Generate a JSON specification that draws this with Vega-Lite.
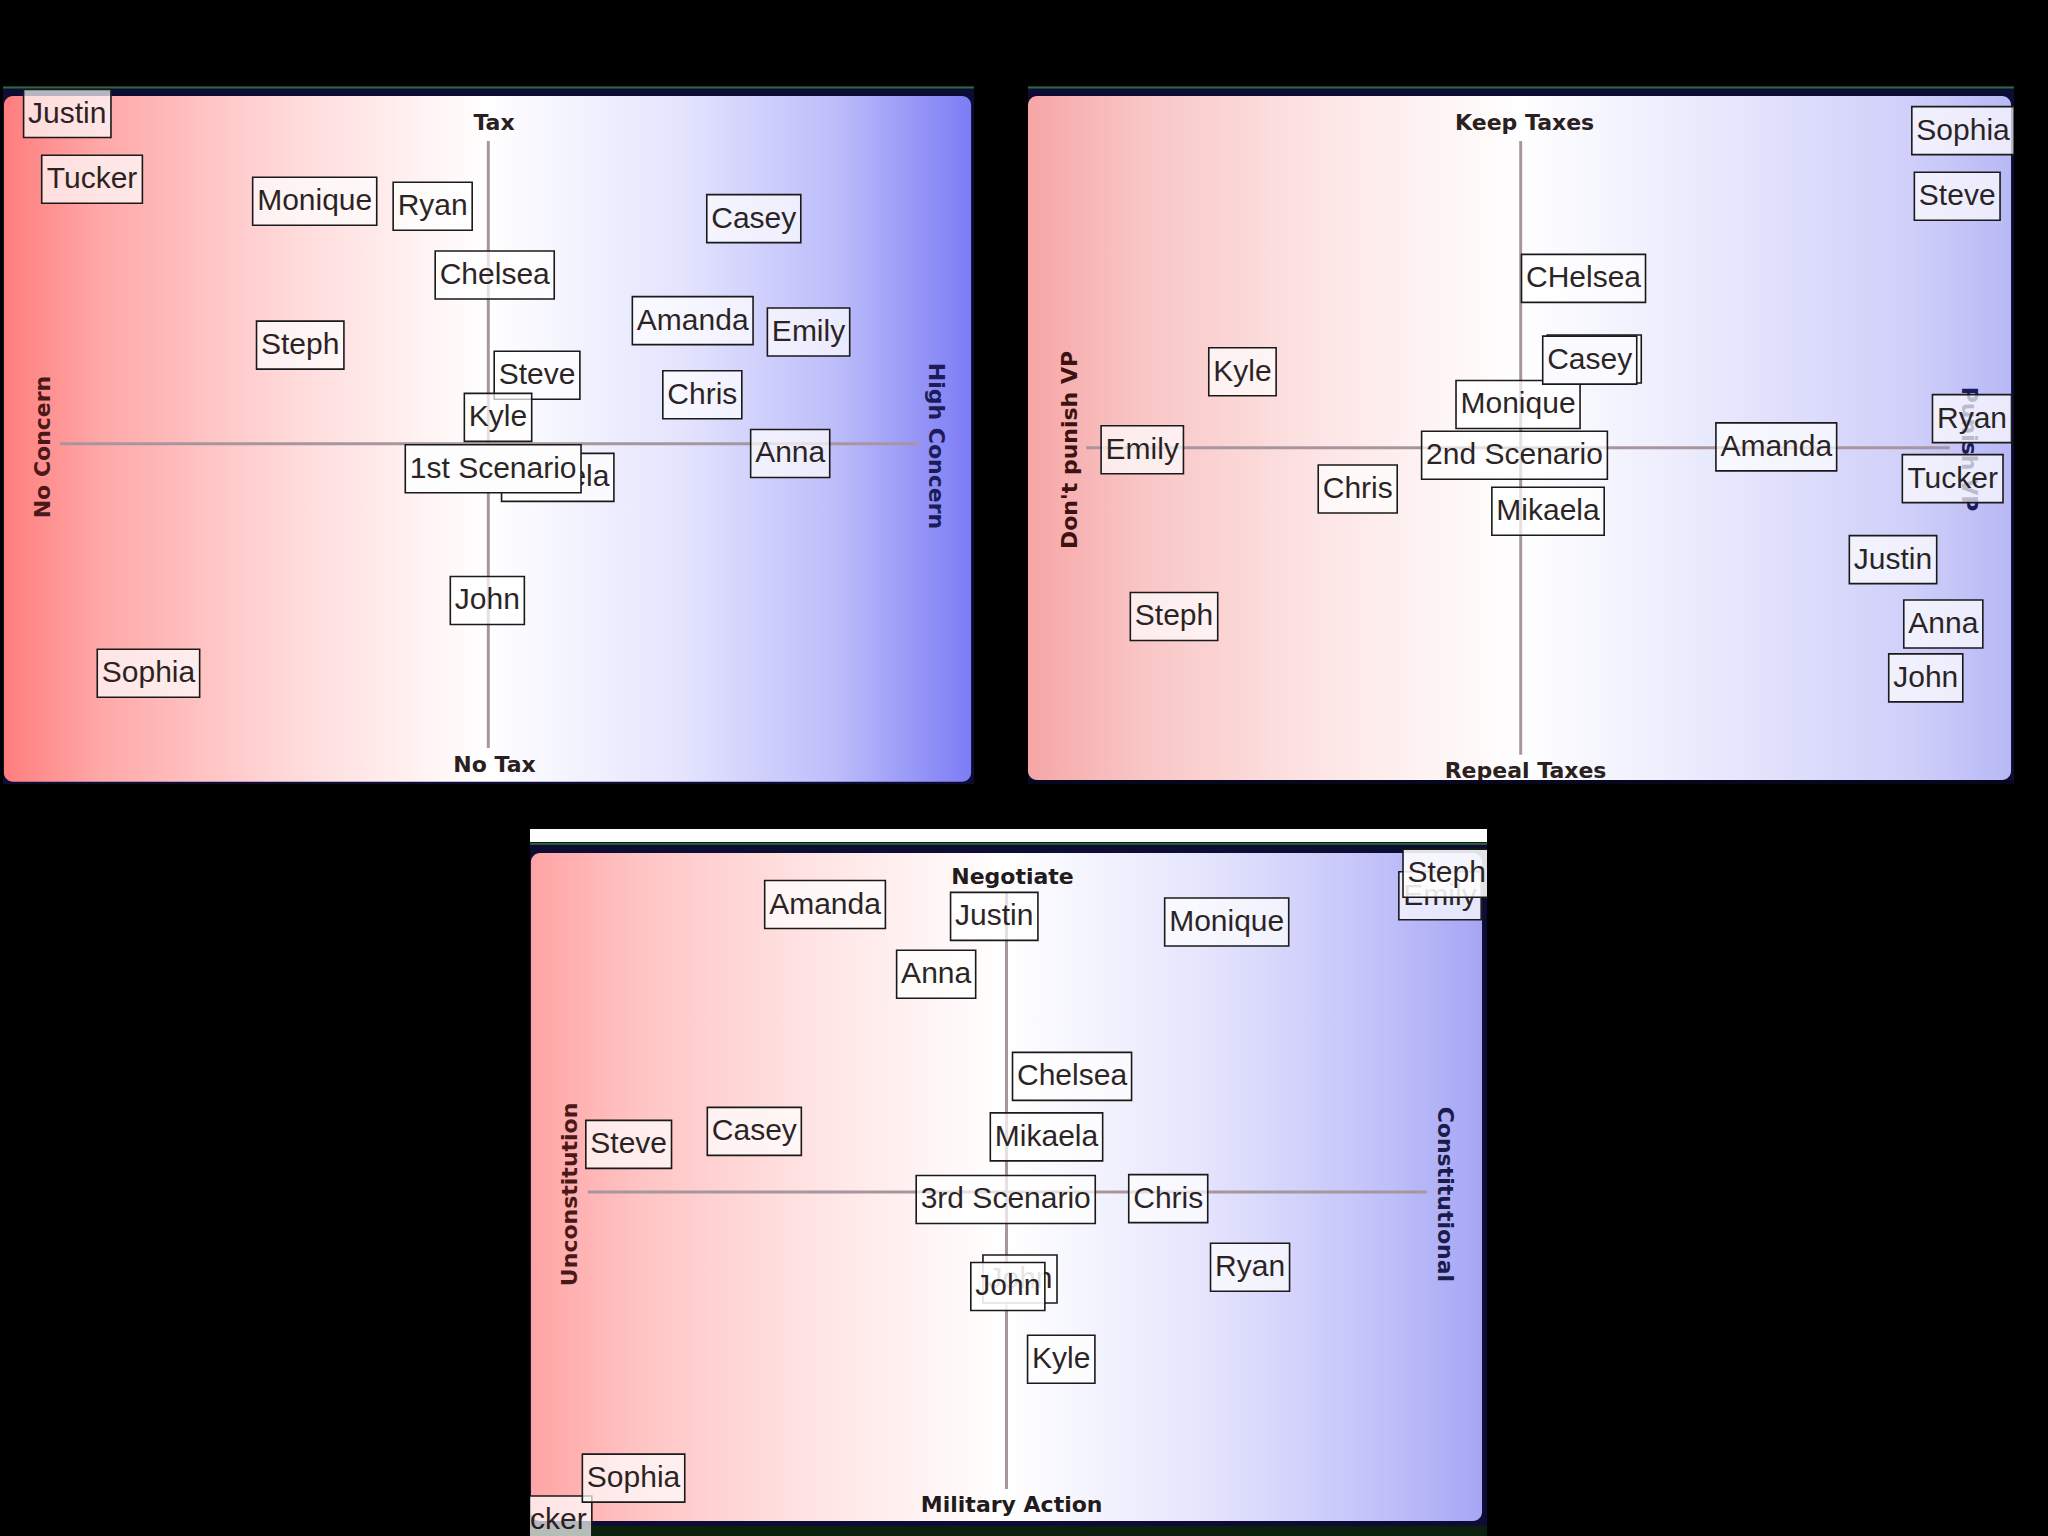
{
  "$schema": "https://vega.github.io/schema/vega-lite/v6.json",
  "background": "#000000",
  "padding": {"left": 2, "top": 86, "right": 37, "bottom": 0},
  "center": true,
  "spacing": 45,
  "config": {"view": {"stroke": null}},
  "datasets": {
    "p1": [
      {"name": "Justin", "x": 6.62, "y": 96.06},
      {"name": "Tucker", "x": 9.17, "y": 86.65},
      {"name": "Monique", "x": 32.10, "y": 83.48},
      {"name": "Ryan", "x": 44.25, "y": 82.77},
      {"name": "Casey", "x": 77.32, "y": 81.0},
      {"name": "Chelsea", "x": 50.64, "y": 72.92},
      {"name": "Amanda", "x": 71.03, "y": 66.38},
      {"name": "Emily", "x": 82.96, "y": 64.76},
      {"name": "Steph", "x": 30.61, "y": 62.87},
      {"name": "Steve", "x": 55.0, "y": 58.55},
      {"name": "Chris", "x": 72.02, "y": 55.77},
      {"name": "Kyle", "x": 50.98, "y": 52.52},
      {"name": "Anna", "x": 81.07, "y": 47.36},
      {"name": "John", "x": 49.88, "y": 26.30},
      {"name": "Sophia", "x": 14.98, "y": 15.86}
    ],
    "p1under": [
      {"name": "Mikaela", "x": 57.13, "y": 43.93}
    ],
    "p1front": [
      {"name": "1st Scenario", "x": 50.48, "y": 45.16}
    ],
    "p2": [
      {"name": "Sophia", "x": 94.83, "y": 93.60},
      {"name": "Steve", "x": 94.24, "y": 84.21},
      {"name": "CHelsea", "x": 56.34, "y": 72.44},
      {"name": "Kyle", "x": 21.75, "y": 59.07},
      {"name": "Monique", "x": 49.70, "y": 54.37},
      {"name": "Ryan", "x": 95.74, "y": 52.35},
      {"name": "2nd Scenario", "x": 49.34, "y": 47.09},
      {"name": "Emily", "x": 11.59, "y": 47.88},
      {"name": "Amanda", "x": 75.89, "y": 48.30},
      {"name": "Tucker", "x": 93.78, "y": 43.75},
      {"name": "Chris", "x": 33.44, "y": 42.26},
      {"name": "Mikaela", "x": 52.74, "y": 39.08},
      {"name": "Justin", "x": 87.73, "y": 32.15},
      {"name": "Steph", "x": 14.81, "y": 24.0},
      {"name": "Anna", "x": 92.83, "y": 22.92},
      {"name": "John", "x": 91.05, "y": 15.21}
    ],
    "p2under": [
      {"name": "Casey", "x": 57.43, "y": 60.89}
    ],
    "p2front": [
      {"name": "Casey", "x": 56.97, "y": 60.73}
    ],
    "p3": [
      {"name": "Amanda", "x": 30.83, "y": 89.32},
      {"name": "Justin", "x": 48.51, "y": 87.64},
      {"name": "Monique", "x": 72.80, "y": 86.85},
      {"name": "Anna", "x": 42.44, "y": 79.45},
      {"name": "Chelsea", "x": 56.64, "y": 65.01},
      {"name": "Steve", "x": 10.31, "y": 55.39},
      {"name": "Casey", "x": 23.44, "y": 57.23},
      {"name": "Mikaela", "x": 53.97, "y": 56.45},
      {"name": "3rd Scenario", "x": 49.71, "y": 47.60},
      {"name": "Chris", "x": 66.69, "y": 47.72},
      {"name": "Ryan", "x": 75.24, "y": 38.01},
      {"name": "Kyle", "x": 55.51, "y": 24.99},
      {"name": "Tucker", "x": 1.20, "y": 2.26},
      {"name": "Sophia", "x": 10.82, "y": 8.18}
    ],
    "p3under": [
      {"name": "Emily", "x": 95.09, "y": 90.55},
      {"name": "John", "x": 51.20, "y": 36.35}
    ],
    "p3front": [
      {"name": "John", "x": 49.93, "y": 35.30},
      {"name": "Steph", "x": 95.79, "y": 93.75}
    ]
  },
  "vconcat": [
    {
      "hconcat": [
        {
          "width": 971,
          "height": 698,
          "layer": [
            {"data": {"values": [{}]}, "mark": {"type": "rect", "fill": "#0c0c34"},
             "encoding": {"x": {"datum": 0, "type": "quantitative", "scale": {"domain": [0, 100], "nice": false, "zero": false}, "axis": null}, "x2": {"datum": 100},
                          "y": {"datum": 0, "type": "quantitative", "scale": {"domain": [0, 100], "nice": false, "zero": false}, "axis": null}, "y2": {"datum": 100}}},
            {"data": {"values": [{}]}, "mark": {"type": "rule", "color": "#2e6b34", "strokeWidth": 2},
             "encoding": {"x": {"datum": 0, "type": "quantitative"}, "x2": {"datum": 100}, "y": {"datum": 99.8, "type": "quantitative"}}},
            {"data": {"values": [{}]}, "mark": {"type": "rect", "cornerRadius": 9, "fill": {"gradient": "linear", "x1": 0, "y1": 0, "x2": 1, "y2": 0, "stops": [{"offset": 0, "color": "#ff7d7d"}, {"offset": 0.1, "color": "#ffa8a8"}, {"offset": 0.3, "color": "#ffdada"}, {"offset": 0.5, "color": "#ffffff"}, {"offset": 0.7, "color": "#e4e4fe"}, {"offset": 0.86, "color": "#bdbdfb"}, {"offset": 1, "color": "#7c7cf5"}]}},
             "encoding": {"x": {"datum": 0.1, "type": "quantitative"}, "x2": {"datum": 99.7}, "y": {"datum": 0.33, "type": "quantitative"}, "y2": {"datum": 98.57}}},
            {"data": {"values": [{"x": 5.87, "x2": 94.3, "y": 48.75, "y2": 48.75}, {"x": 49.98, "x2": 49.98, "y": 92.12, "y2": 5.16}]},
             "mark": {"type": "rule", "color": "#a8969e", "strokeWidth": 3},
             "encoding": {"x": {"field": "x", "type": "quantitative"}, "x2": {"field": "x2"}, "y": {"field": "y", "type": "quantitative"}, "y2": {"field": "y2"}}},
            {"data": {"values": [{"label": "Tax", "x": 50.57, "y": 94.70}, {"label": "No Tax", "x": 50.62, "y": 2.72}]},
             "mark": {"type": "text", "font": "DejaVu Sans", "fontWeight": "bold", "fontSize": 22, "color": "#2b1e20", "align": "center", "baseline": "middle"},
             "encoding": {"x": {"field": "x", "type": "quantitative"}, "y": {"field": "y", "type": "quantitative"}, "text": {"field": "label"}}},
            {"data": {"values": [{"label": "No Concern", "x": 4.17, "y": 48.28}]},
             "mark": {"type": "text", "font": "DejaVu Sans", "fontWeight": "bold", "fontSize": 22, "color": "#4a1818", "angle": 270, "align": "center", "baseline": "middle"},
             "encoding": {"x": {"field": "x", "type": "quantitative"}, "y": {"field": "y", "type": "quantitative"}, "text": {"field": "label"}}},
            {"data": {"values": [{"label": "High Concern", "x": 96.09, "y": 48.42}]},
             "mark": {"type": "text", "font": "DejaVu Sans", "fontWeight": "bold", "fontSize": 22, "color": "#1c1c5a", "angle": 90, "align": "center", "baseline": "middle"},
             "encoding": {"x": {"field": "x", "type": "quantitative"}, "y": {"field": "y", "type": "quantitative"}, "text": {"field": "label"}}},
            {"data": {"name": "p1under"},
             "mark": {"type": "rect", "clip": true, "fill": "#ffffff", "fillOpacity": 0.7, "stroke": "#1a1a1a", "strokeWidth": 1.6, "yOffset": -24, "y2Offset": 24,
                      "xOffset": {"expr": "-(30*(0.556*length(datum.name)-0.334*(length(datum.name)-length(replace(datum.name,regexp('[ijl]','g'),'')))-0.278*(length(datum.name)-length(replace(datum.name,regexp('[t ]','g'),'')))-0.223*(length(datum.name)-length(replace(datum.name,regexp('r','g'),'')))-0.056*(length(datum.name)-length(replace(datum.name,regexp('[cksvyJ]','g'),'')))+0.111*(length(datum.name)-length(replace(datum.name,regexp('[AEKS]','g'),'')))+0.166*(length(datum.name)-length(replace(datum.name,regexp('[CRH]','g'),'')))+0.277*(length(datum.name)-length(replace(datum.name,regexp('[mM]','g'),'')))+0.055*(length(datum.name)-length(replace(datum.name,regexp('T','g'),''))))+9)/2"},
                      "x2Offset": {"expr": "(30*(0.556*length(datum.name)-0.334*(length(datum.name)-length(replace(datum.name,regexp('[ijl]','g'),'')))-0.278*(length(datum.name)-length(replace(datum.name,regexp('[t ]','g'),'')))-0.223*(length(datum.name)-length(replace(datum.name,regexp('r','g'),'')))-0.056*(length(datum.name)-length(replace(datum.name,regexp('[cksvyJ]','g'),'')))+0.111*(length(datum.name)-length(replace(datum.name,regexp('[AEKS]','g'),'')))+0.166*(length(datum.name)-length(replace(datum.name,regexp('[CRH]','g'),'')))+0.277*(length(datum.name)-length(replace(datum.name,regexp('[mM]','g'),'')))+0.055*(length(datum.name)-length(replace(datum.name,regexp('T','g'),''))))+9)/2"}},
             "encoding": {"x": {"field": "x", "type": "quantitative"}, "x2": {"field": "x"}, "y": {"field": "y", "type": "quantitative"}, "y2": {"field": "y"}}},
            {"data": {"name": "p1under"},
             "mark": {"type": "text", "clip": true, "font": "Liberation Sans", "fontSize": 30, "color": "#1a1212", "opacity": 0.92, "align": "center", "baseline": "middle"},
             "encoding": {"x": {"field": "x", "type": "quantitative"}, "y": {"field": "y", "type": "quantitative"}, "text": {"field": "name"}}},
            {"data": {"name": "p1"},
             "mark": {"type": "rect", "clip": true, "fill": "#ffffff", "fillOpacity": 0.7, "stroke": "#1a1a1a", "strokeWidth": 1.6, "yOffset": -24, "y2Offset": 24,
                      "xOffset": {"expr": "-(30*(0.556*length(datum.name)-0.334*(length(datum.name)-length(replace(datum.name,regexp('[ijl]','g'),'')))-0.278*(length(datum.name)-length(replace(datum.name,regexp('[t ]','g'),'')))-0.223*(length(datum.name)-length(replace(datum.name,regexp('r','g'),'')))-0.056*(length(datum.name)-length(replace(datum.name,regexp('[cksvyJ]','g'),'')))+0.111*(length(datum.name)-length(replace(datum.name,regexp('[AEKS]','g'),'')))+0.166*(length(datum.name)-length(replace(datum.name,regexp('[CRH]','g'),'')))+0.277*(length(datum.name)-length(replace(datum.name,regexp('[mM]','g'),'')))+0.055*(length(datum.name)-length(replace(datum.name,regexp('T','g'),''))))+9)/2"},
                      "x2Offset": {"expr": "(30*(0.556*length(datum.name)-0.334*(length(datum.name)-length(replace(datum.name,regexp('[ijl]','g'),'')))-0.278*(length(datum.name)-length(replace(datum.name,regexp('[t ]','g'),'')))-0.223*(length(datum.name)-length(replace(datum.name,regexp('r','g'),'')))-0.056*(length(datum.name)-length(replace(datum.name,regexp('[cksvyJ]','g'),'')))+0.111*(length(datum.name)-length(replace(datum.name,regexp('[AEKS]','g'),'')))+0.166*(length(datum.name)-length(replace(datum.name,regexp('[CRH]','g'),'')))+0.277*(length(datum.name)-length(replace(datum.name,regexp('[mM]','g'),'')))+0.055*(length(datum.name)-length(replace(datum.name,regexp('T','g'),''))))+9)/2"}},
             "encoding": {"x": {"field": "x", "type": "quantitative"}, "x2": {"field": "x"}, "y": {"field": "y", "type": "quantitative"}, "y2": {"field": "y"}}},
            {"data": {"name": "p1"},
             "mark": {"type": "text", "clip": true, "font": "Liberation Sans", "fontSize": 30, "color": "#1a1212", "opacity": 0.92, "align": "center", "baseline": "middle"},
             "encoding": {"x": {"field": "x", "type": "quantitative"}, "y": {"field": "y", "type": "quantitative"}, "text": {"field": "name"}}},
            {"data": {"name": "p1front"},
             "mark": {"type": "rect", "clip": true, "fill": "#fdfdfd", "stroke": "#1a1a1a", "strokeWidth": 1.6, "yOffset": -24, "y2Offset": 24,
                      "xOffset": {"expr": "-(30*(0.556*length(datum.name)-0.334*(length(datum.name)-length(replace(datum.name,regexp('[ijl]','g'),'')))-0.278*(length(datum.name)-length(replace(datum.name,regexp('[t ]','g'),'')))-0.223*(length(datum.name)-length(replace(datum.name,regexp('r','g'),'')))-0.056*(length(datum.name)-length(replace(datum.name,regexp('[cksvyJ]','g'),'')))+0.111*(length(datum.name)-length(replace(datum.name,regexp('[AEKS]','g'),'')))+0.166*(length(datum.name)-length(replace(datum.name,regexp('[CRH]','g'),'')))+0.277*(length(datum.name)-length(replace(datum.name,regexp('[mM]','g'),'')))+0.055*(length(datum.name)-length(replace(datum.name,regexp('T','g'),''))))+9)/2"},
                      "x2Offset": {"expr": "(30*(0.556*length(datum.name)-0.334*(length(datum.name)-length(replace(datum.name,regexp('[ijl]','g'),'')))-0.278*(length(datum.name)-length(replace(datum.name,regexp('[t ]','g'),'')))-0.223*(length(datum.name)-length(replace(datum.name,regexp('r','g'),'')))-0.056*(length(datum.name)-length(replace(datum.name,regexp('[cksvyJ]','g'),'')))+0.111*(length(datum.name)-length(replace(datum.name,regexp('[AEKS]','g'),'')))+0.166*(length(datum.name)-length(replace(datum.name,regexp('[CRH]','g'),'')))+0.277*(length(datum.name)-length(replace(datum.name,regexp('[mM]','g'),'')))+0.055*(length(datum.name)-length(replace(datum.name,regexp('T','g'),''))))+9)/2"}},
             "encoding": {"x": {"field": "x", "type": "quantitative"}, "x2": {"field": "x"}, "y": {"field": "y", "type": "quantitative"}, "y2": {"field": "y"}}},
            {"data": {"name": "p1front"},
             "mark": {"type": "text", "clip": true, "font": "Liberation Sans", "fontSize": 30, "color": "#1a1212", "opacity": 0.92, "align": "center", "baseline": "middle"},
             "encoding": {"x": {"field": "x", "type": "quantitative"}, "y": {"field": "y", "type": "quantitative"}, "text": {"field": "name"}}}
          ]
        },
        {
          "width": 986,
          "height": 698,
          "layer": [
            {"data": {"values": [{}]}, "mark": {"type": "rect", "fill": "#0c0c34"},
             "encoding": {"x": {"datum": 0, "type": "quantitative", "scale": {"domain": [0, 100], "nice": false, "zero": false}, "axis": null}, "x2": {"datum": 100},
                          "y": {"datum": 0, "type": "quantitative", "scale": {"domain": [0, 100], "nice": false, "zero": false}, "axis": null}, "y2": {"datum": 100}}},
            {"data": {"values": [{}]}, "mark": {"type": "rule", "color": "#2e6b34", "strokeWidth": 2},
             "encoding": {"x": {"datum": 0, "type": "quantitative"}, "x2": {"datum": 100}, "y": {"datum": 99.8, "type": "quantitative"}}},
            {"data": {"values": [{}]}, "mark": {"type": "rect", "cornerRadius": 9, "fill": {"gradient": "linear", "x1": 0, "y1": 0, "x2": 1, "y2": 0, "stops": [{"offset": 0, "color": "#f6a6a6"}, {"offset": 0.12, "color": "#f9c6c6"}, {"offset": 0.3, "color": "#fde5e5"}, {"offset": 0.5, "color": "#ffffff"}, {"offset": 0.7, "color": "#e8e8fd"}, {"offset": 0.9, "color": "#cfcffa"}, {"offset": 1, "color": "#b8b8f6"}]}},
             "encoding": {"x": {"datum": 0, "type": "quantitative"}, "x2": {"datum": 99.7}, "y": {"datum": 0.57, "type": "quantitative"}, "y2": {"datum": 98.57}}},
            {"data": {"values": [{"x": 5.91, "x2": 93.48, "y": 48.17, "y2": 48.17}, {"x": 49.97, "x2": 49.97, "y": 92.12, "y2": 4.18}]},
             "mark": {"type": "rule", "color": "#a8969e", "strokeWidth": 3},
             "encoding": {"x": {"field": "x", "type": "quantitative"}, "x2": {"field": "x2"}, "y": {"field": "y", "type": "quantitative"}, "y2": {"field": "y2"}}},
            {"data": {"values": [{"label": "Keep Taxes", "x": 50.37, "y": 94.70}, {"label": "Repeal Taxes", "x": 50.46, "y": 1.91}]},
             "mark": {"type": "text", "font": "DejaVu Sans", "fontWeight": "bold", "fontSize": 22, "color": "#2a2020", "align": "center", "baseline": "middle"},
             "encoding": {"x": {"field": "x", "type": "quantitative"}, "y": {"field": "y", "type": "quantitative"}, "text": {"field": "label"}}},
            {"data": {"values": [{"label": "Don't punish VP", "x": 4.23, "y": 47.85}]},
             "mark": {"type": "text", "font": "DejaVu Sans", "fontWeight": "bold", "fontSize": 22, "color": "#3d1212", "angle": 270, "align": "center", "baseline": "middle"},
             "encoding": {"x": {"field": "x", "type": "quantitative"}, "y": {"field": "y", "type": "quantitative"}, "text": {"field": "label"}}},
            {"data": {"values": [{"label": "Punish VP", "x": 95.44, "y": 47.99}]},
             "mark": {"type": "text", "font": "DejaVu Sans", "fontWeight": "bold", "fontSize": 22, "color": "#1c1c5a", "angle": 90, "align": "center", "baseline": "middle"},
             "encoding": {"x": {"field": "x", "type": "quantitative"}, "y": {"field": "y", "type": "quantitative"}, "text": {"field": "label"}}},
            {"data": {"values": [{}]}, "mark": {"type": "rect", "fill": "#06061c"},
             "encoding": {"x": {"datum": 0, "type": "quantitative"}, "x2": {"datum": 100}, "y": {"datum": 0, "type": "quantitative"}, "y2": {"datum": 0.57}}},
            {"data": {"name": "p2under"},
             "mark": {"type": "rect", "clip": true, "fill": "#ffffff", "fillOpacity": 0.7, "stroke": "#1a1a1a", "strokeWidth": 1.6, "yOffset": -24, "y2Offset": 24,
                      "xOffset": {"expr": "-(30*(0.556*length(datum.name)-0.334*(length(datum.name)-length(replace(datum.name,regexp('[ijl]','g'),'')))-0.278*(length(datum.name)-length(replace(datum.name,regexp('[t ]','g'),'')))-0.223*(length(datum.name)-length(replace(datum.name,regexp('r','g'),'')))-0.056*(length(datum.name)-length(replace(datum.name,regexp('[cksvyJ]','g'),'')))+0.111*(length(datum.name)-length(replace(datum.name,regexp('[AEKS]','g'),'')))+0.166*(length(datum.name)-length(replace(datum.name,regexp('[CRH]','g'),'')))+0.277*(length(datum.name)-length(replace(datum.name,regexp('[mM]','g'),'')))+0.055*(length(datum.name)-length(replace(datum.name,regexp('T','g'),''))))+9)/2"},
                      "x2Offset": {"expr": "(30*(0.556*length(datum.name)-0.334*(length(datum.name)-length(replace(datum.name,regexp('[ijl]','g'),'')))-0.278*(length(datum.name)-length(replace(datum.name,regexp('[t ]','g'),'')))-0.223*(length(datum.name)-length(replace(datum.name,regexp('r','g'),'')))-0.056*(length(datum.name)-length(replace(datum.name,regexp('[cksvyJ]','g'),'')))+0.111*(length(datum.name)-length(replace(datum.name,regexp('[AEKS]','g'),'')))+0.166*(length(datum.name)-length(replace(datum.name,regexp('[CRH]','g'),'')))+0.277*(length(datum.name)-length(replace(datum.name,regexp('[mM]','g'),'')))+0.055*(length(datum.name)-length(replace(datum.name,regexp('T','g'),''))))+9)/2"}},
             "encoding": {"x": {"field": "x", "type": "quantitative"}, "x2": {"field": "x"}, "y": {"field": "y", "type": "quantitative"}, "y2": {"field": "y"}}},
            {"data": {"name": "p2under"},
             "mark": {"type": "text", "clip": true, "font": "Liberation Sans", "fontSize": 30, "color": "#1a1212", "opacity": 0.92, "align": "center", "baseline": "middle"},
             "encoding": {"x": {"field": "x", "type": "quantitative"}, "y": {"field": "y", "type": "quantitative"}, "text": {"field": "name"}}},
            {"data": {"name": "p2"},
             "mark": {"type": "rect", "clip": true, "fill": "#ffffff", "fillOpacity": 0.7, "stroke": "#1a1a1a", "strokeWidth": 1.6, "yOffset": -24, "y2Offset": 24,
                      "xOffset": {"expr": "-(30*(0.556*length(datum.name)-0.334*(length(datum.name)-length(replace(datum.name,regexp('[ijl]','g'),'')))-0.278*(length(datum.name)-length(replace(datum.name,regexp('[t ]','g'),'')))-0.223*(length(datum.name)-length(replace(datum.name,regexp('r','g'),'')))-0.056*(length(datum.name)-length(replace(datum.name,regexp('[cksvyJ]','g'),'')))+0.111*(length(datum.name)-length(replace(datum.name,regexp('[AEKS]','g'),'')))+0.166*(length(datum.name)-length(replace(datum.name,regexp('[CRH]','g'),'')))+0.277*(length(datum.name)-length(replace(datum.name,regexp('[mM]','g'),'')))+0.055*(length(datum.name)-length(replace(datum.name,regexp('T','g'),''))))+9)/2"},
                      "x2Offset": {"expr": "(30*(0.556*length(datum.name)-0.334*(length(datum.name)-length(replace(datum.name,regexp('[ijl]','g'),'')))-0.278*(length(datum.name)-length(replace(datum.name,regexp('[t ]','g'),'')))-0.223*(length(datum.name)-length(replace(datum.name,regexp('r','g'),'')))-0.056*(length(datum.name)-length(replace(datum.name,regexp('[cksvyJ]','g'),'')))+0.111*(length(datum.name)-length(replace(datum.name,regexp('[AEKS]','g'),'')))+0.166*(length(datum.name)-length(replace(datum.name,regexp('[CRH]','g'),'')))+0.277*(length(datum.name)-length(replace(datum.name,regexp('[mM]','g'),'')))+0.055*(length(datum.name)-length(replace(datum.name,regexp('T','g'),''))))+9)/2"}},
             "encoding": {"x": {"field": "x", "type": "quantitative"}, "x2": {"field": "x"}, "y": {"field": "y", "type": "quantitative"}, "y2": {"field": "y"}}},
            {"data": {"name": "p2"},
             "mark": {"type": "text", "clip": true, "font": "Liberation Sans", "fontSize": 30, "color": "#1a1212", "opacity": 0.92, "align": "center", "baseline": "middle"},
             "encoding": {"x": {"field": "x", "type": "quantitative"}, "y": {"field": "y", "type": "quantitative"}, "text": {"field": "name"}}},
            {"data": {"name": "p2front"},
             "mark": {"type": "rect", "clip": true, "fill": "#fbfbff", "stroke": "#1a1a1a", "strokeWidth": 1.6, "yOffset": -24, "y2Offset": 24,
                      "xOffset": {"expr": "-(30*(0.556*length(datum.name)-0.334*(length(datum.name)-length(replace(datum.name,regexp('[ijl]','g'),'')))-0.278*(length(datum.name)-length(replace(datum.name,regexp('[t ]','g'),'')))-0.223*(length(datum.name)-length(replace(datum.name,regexp('r','g'),'')))-0.056*(length(datum.name)-length(replace(datum.name,regexp('[cksvyJ]','g'),'')))+0.111*(length(datum.name)-length(replace(datum.name,regexp('[AEKS]','g'),'')))+0.166*(length(datum.name)-length(replace(datum.name,regexp('[CRH]','g'),'')))+0.277*(length(datum.name)-length(replace(datum.name,regexp('[mM]','g'),'')))+0.055*(length(datum.name)-length(replace(datum.name,regexp('T','g'),''))))+9)/2"},
                      "x2Offset": {"expr": "(30*(0.556*length(datum.name)-0.334*(length(datum.name)-length(replace(datum.name,regexp('[ijl]','g'),'')))-0.278*(length(datum.name)-length(replace(datum.name,regexp('[t ]','g'),'')))-0.223*(length(datum.name)-length(replace(datum.name,regexp('r','g'),'')))-0.056*(length(datum.name)-length(replace(datum.name,regexp('[cksvyJ]','g'),'')))+0.111*(length(datum.name)-length(replace(datum.name,regexp('[AEKS]','g'),'')))+0.166*(length(datum.name)-length(replace(datum.name,regexp('[CRH]','g'),'')))+0.277*(length(datum.name)-length(replace(datum.name,regexp('[mM]','g'),'')))+0.055*(length(datum.name)-length(replace(datum.name,regexp('T','g'),''))))+9)/2"}},
             "encoding": {"x": {"field": "x", "type": "quantitative"}, "x2": {"field": "x"}, "y": {"field": "y", "type": "quantitative"}, "y2": {"field": "y"}}},
            {"data": {"name": "p2front"},
             "mark": {"type": "text", "clip": true, "font": "Liberation Sans", "fontSize": 30, "color": "#1a1212", "opacity": 0.92, "align": "center", "baseline": "middle"},
             "encoding": {"x": {"field": "x", "type": "quantitative"}, "y": {"field": "y", "type": "quantitative"}, "text": {"field": "name"}}}
          ]
        }
      ],
      "spacing": 52
    },
    {
      "width": 957,
      "height": 707,
      "layer": [
        {"data": {"values": [{}]}, "mark": {"type": "rect", "fill": "#0a1f0c"},
         "encoding": {"x": {"datum": 0, "type": "quantitative", "scale": {"domain": [0, 100], "nice": false, "zero": false}, "axis": null}, "x2": {"datum": 100},
                      "y": {"datum": 0, "type": "quantitative", "scale": {"domain": [0, 100], "nice": false, "zero": false}, "axis": null}, "y2": {"datum": 1.41}}},
        {"data": {"values": [{}]}, "mark": {"type": "rect", "fill": "#0c0c34"},
         "encoding": {"x": {"datum": 0, "type": "quantitative"}, "x2": {"datum": 100}, "y": {"datum": 1.41, "type": "quantitative"}, "y2": {"datum": 97.95}}},
        {"data": {"values": [{}]}, "mark": {"type": "rect", "fill": "#ffffff"},
         "encoding": {"x": {"datum": 0, "type": "quantitative"}, "x2": {"datum": 100}, "y": {"datum": 98.16, "type": "quantitative"}, "y2": {"datum": 100}}},
        {"data": {"values": [{}]}, "mark": {"type": "rule", "color": "#2e6b34", "strokeWidth": 2},
         "encoding": {"x": {"datum": 0, "type": "quantitative"}, "x2": {"datum": 100}, "y": {"datum": 97.9, "type": "quantitative"}}},
        {"data": {"values": [{}]}, "mark": {"type": "rect", "cornerRadius": 9, "fill": {"gradient": "linear", "x1": 0, "y1": 0, "x2": 1, "y2": 0, "stops": [{"offset": 0, "color": "#ffa4a4"}, {"offset": 0.12, "color": "#ffc5c5"}, {"offset": 0.3, "color": "#ffe4e4"}, {"offset": 0.5, "color": "#ffffff"}, {"offset": 0.7, "color": "#e6e6fd"}, {"offset": 0.88, "color": "#c4c4fa"}, {"offset": 1, "color": "#a6a6f5"}]}},
         "encoding": {"x": {"datum": 0.1, "type": "quantitative"}, "x2": {"datum": 99.48}, "y": {"datum": 2.12, "type": "quantitative"}, "y2": {"datum": 96.6}}},
        {"data": {"values": [{"x": 6.03, "x2": 93.73, "y": 48.64, "y2": 48.64}, {"x": 49.79, "x2": 49.79, "y": 90.95, "y2": 6.65}]},
         "mark": {"type": "rule", "color": "#a8969e", "strokeWidth": 3},
         "encoding": {"x": {"field": "x", "type": "quantitative"}, "x2": {"field": "x2"}, "y": {"field": "y", "type": "quantitative"}, "y2": {"field": "y2"}}},
        {"data": {"values": [{"label": "Negotiate", "x": 50.42, "y": 93.21}, {"label": "Military Action", "x": 50.33, "y": 4.38}]},
         "mark": {"type": "text", "font": "DejaVu Sans", "fontWeight": "bold", "fontSize": 22, "color": "#221a1c", "align": "center", "baseline": "middle"},
         "encoding": {"x": {"field": "x", "type": "quantitative"}, "y": {"field": "y", "type": "quantitative"}, "text": {"field": "label"}}},
        {"data": {"values": [{"label": "Unconstitution", "x": 4.21, "y": 48.32}]},
         "mark": {"type": "text", "font": "DejaVu Sans", "fontWeight": "bold", "fontSize": 22, "color": "#4a1818", "angle": 270, "align": "center", "baseline": "middle"},
         "encoding": {"x": {"field": "x", "type": "quantitative"}, "y": {"field": "y", "type": "quantitative"}, "text": {"field": "label"}}},
        {"data": {"values": [{"label": "Constitutional", "x": 95.64, "y": 48.32}]},
         "mark": {"type": "text", "font": "DejaVu Sans", "fontWeight": "bold", "fontSize": 22, "color": "#1c1c4a", "angle": 90, "align": "center", "baseline": "middle"},
         "encoding": {"x": {"field": "x", "type": "quantitative"}, "y": {"field": "y", "type": "quantitative"}, "text": {"field": "label"}}},
        {"data": {"name": "p3under"},
         "mark": {"type": "rect", "clip": true, "fill": "#ffffff", "fillOpacity": 0.7, "stroke": "#1a1a1a", "strokeWidth": 1.6, "yOffset": -24, "y2Offset": 24,
                  "xOffset": {"expr": "-(30*(0.556*length(datum.name)-0.334*(length(datum.name)-length(replace(datum.name,regexp('[ijl]','g'),'')))-0.278*(length(datum.name)-length(replace(datum.name,regexp('[t ]','g'),'')))-0.223*(length(datum.name)-length(replace(datum.name,regexp('r','g'),'')))-0.056*(length(datum.name)-length(replace(datum.name,regexp('[cksvyJ]','g'),'')))+0.111*(length(datum.name)-length(replace(datum.name,regexp('[AEKS]','g'),'')))+0.166*(length(datum.name)-length(replace(datum.name,regexp('[CRH]','g'),'')))+0.277*(length(datum.name)-length(replace(datum.name,regexp('[mM]','g'),'')))+0.055*(length(datum.name)-length(replace(datum.name,regexp('T','g'),''))))+9)/2"},
                  "x2Offset": {"expr": "(30*(0.556*length(datum.name)-0.334*(length(datum.name)-length(replace(datum.name,regexp('[ijl]','g'),'')))-0.278*(length(datum.name)-length(replace(datum.name,regexp('[t ]','g'),'')))-0.223*(length(datum.name)-length(replace(datum.name,regexp('r','g'),'')))-0.056*(length(datum.name)-length(replace(datum.name,regexp('[cksvyJ]','g'),'')))+0.111*(length(datum.name)-length(replace(datum.name,regexp('[AEKS]','g'),'')))+0.166*(length(datum.name)-length(replace(datum.name,regexp('[CRH]','g'),'')))+0.277*(length(datum.name)-length(replace(datum.name,regexp('[mM]','g'),'')))+0.055*(length(datum.name)-length(replace(datum.name,regexp('T','g'),''))))+9)/2"}},
         "encoding": {"x": {"field": "x", "type": "quantitative"}, "x2": {"field": "x"}, "y": {"field": "y", "type": "quantitative"}, "y2": {"field": "y"}}},
        {"data": {"name": "p3under"},
         "mark": {"type": "text", "clip": true, "font": "Liberation Sans", "fontSize": 30, "color": "#1a1212", "opacity": 0.92, "align": "center", "baseline": "middle"},
         "encoding": {"x": {"field": "x", "type": "quantitative"}, "y": {"field": "y", "type": "quantitative"}, "text": {"field": "name"}}},
        {"data": {"name": "p3"},
         "mark": {"type": "rect", "clip": true, "fill": "#ffffff", "fillOpacity": 0.7, "stroke": "#1a1a1a", "strokeWidth": 1.6, "yOffset": -24, "y2Offset": 24,
                  "xOffset": {"expr": "-(30*(0.556*length(datum.name)-0.334*(length(datum.name)-length(replace(datum.name,regexp('[ijl]','g'),'')))-0.278*(length(datum.name)-length(replace(datum.name,regexp('[t ]','g'),'')))-0.223*(length(datum.name)-length(replace(datum.name,regexp('r','g'),'')))-0.056*(length(datum.name)-length(replace(datum.name,regexp('[cksvyJ]','g'),'')))+0.111*(length(datum.name)-length(replace(datum.name,regexp('[AEKS]','g'),'')))+0.166*(length(datum.name)-length(replace(datum.name,regexp('[CRH]','g'),'')))+0.277*(length(datum.name)-length(replace(datum.name,regexp('[mM]','g'),'')))+0.055*(length(datum.name)-length(replace(datum.name,regexp('T','g'),''))))+9)/2"},
                  "x2Offset": {"expr": "(30*(0.556*length(datum.name)-0.334*(length(datum.name)-length(replace(datum.name,regexp('[ijl]','g'),'')))-0.278*(length(datum.name)-length(replace(datum.name,regexp('[t ]','g'),'')))-0.223*(length(datum.name)-length(replace(datum.name,regexp('r','g'),'')))-0.056*(length(datum.name)-length(replace(datum.name,regexp('[cksvyJ]','g'),'')))+0.111*(length(datum.name)-length(replace(datum.name,regexp('[AEKS]','g'),'')))+0.166*(length(datum.name)-length(replace(datum.name,regexp('[CRH]','g'),'')))+0.277*(length(datum.name)-length(replace(datum.name,regexp('[mM]','g'),'')))+0.055*(length(datum.name)-length(replace(datum.name,regexp('T','g'),''))))+9)/2"}},
         "encoding": {"x": {"field": "x", "type": "quantitative"}, "x2": {"field": "x"}, "y": {"field": "y", "type": "quantitative"}, "y2": {"field": "y"}}},
        {"data": {"name": "p3"},
         "mark": {"type": "text", "clip": true, "font": "Liberation Sans", "fontSize": 30, "color": "#1a1212", "opacity": 0.92, "align": "center", "baseline": "middle"},
         "encoding": {"x": {"field": "x", "type": "quantitative"}, "y": {"field": "y", "type": "quantitative"}, "text": {"field": "name"}}},
        {"data": {"name": "p3front"},
         "mark": {"type": "rect", "clip": true, "fill": "#ffffff", "fillOpacity": 0.88, "stroke": "#1a1a1a", "strokeWidth": 1.6, "yOffset": -24, "y2Offset": 24,
                  "xOffset": {"expr": "-(30*(0.556*length(datum.name)-0.334*(length(datum.name)-length(replace(datum.name,regexp('[ijl]','g'),'')))-0.278*(length(datum.name)-length(replace(datum.name,regexp('[t ]','g'),'')))-0.223*(length(datum.name)-length(replace(datum.name,regexp('r','g'),'')))-0.056*(length(datum.name)-length(replace(datum.name,regexp('[cksvyJ]','g'),'')))+0.111*(length(datum.name)-length(replace(datum.name,regexp('[AEKS]','g'),'')))+0.166*(length(datum.name)-length(replace(datum.name,regexp('[CRH]','g'),'')))+0.277*(length(datum.name)-length(replace(datum.name,regexp('[mM]','g'),'')))+0.055*(length(datum.name)-length(replace(datum.name,regexp('T','g'),''))))+9)/2"},
                  "x2Offset": {"expr": "(30*(0.556*length(datum.name)-0.334*(length(datum.name)-length(replace(datum.name,regexp('[ijl]','g'),'')))-0.278*(length(datum.name)-length(replace(datum.name,regexp('[t ]','g'),'')))-0.223*(length(datum.name)-length(replace(datum.name,regexp('r','g'),'')))-0.056*(length(datum.name)-length(replace(datum.name,regexp('[cksvyJ]','g'),'')))+0.111*(length(datum.name)-length(replace(datum.name,regexp('[AEKS]','g'),'')))+0.166*(length(datum.name)-length(replace(datum.name,regexp('[CRH]','g'),'')))+0.277*(length(datum.name)-length(replace(datum.name,regexp('[mM]','g'),'')))+0.055*(length(datum.name)-length(replace(datum.name,regexp('T','g'),''))))+9)/2"}},
         "encoding": {"x": {"field": "x", "type": "quantitative"}, "x2": {"field": "x"}, "y": {"field": "y", "type": "quantitative"}, "y2": {"field": "y"}}},
        {"data": {"name": "p3front"},
         "mark": {"type": "text", "clip": true, "font": "Liberation Sans", "fontSize": 30, "color": "#1a1212", "opacity": 0.92, "align": "center", "baseline": "middle"},
         "encoding": {"x": {"field": "x", "type": "quantitative"}, "y": {"field": "y", "type": "quantitative"}, "text": {"field": "name"}}}
      ]
    }
  ]
}
